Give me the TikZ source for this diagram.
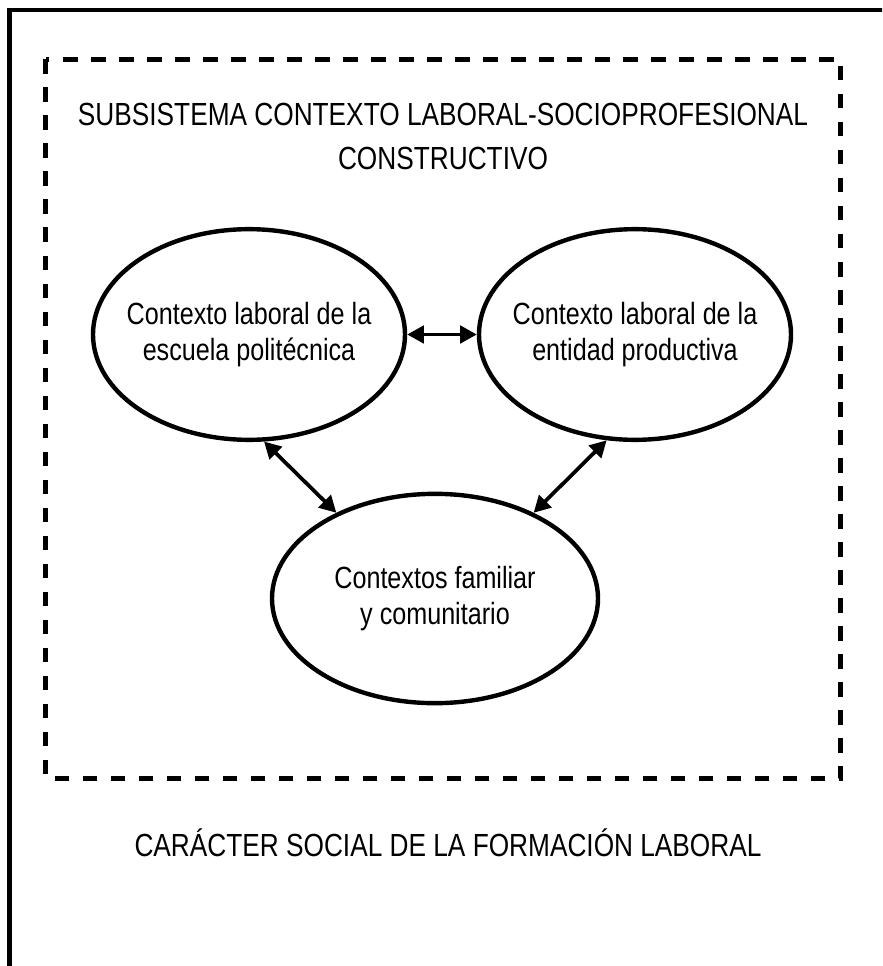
\documentclass[tikz,border=0pt]{standalone}
\usepackage{fontspec}
\setmainfont{Liberation Sans}[FakeStretch=0.82]
\usetikzlibrary{shapes.geometric}
\usetikzlibrary{arrows.meta}

\tikzset{
  ctx/.style={ellipse, draw, line width=3.3pt, inner ysep=0pt, inner xsep=-20pt,
    align=center, font=\fontsize{23}{27}\selectfont},
  lbl/.style={align=center, font=\fontsize{24}{33}\selectfont},
  link/.style={{Triangle[length=12.5pt,width=13pt]}-{Triangle[length=12.5pt,width=13pt]},
    line width=2.8pt},
}

\begin{document}
\begin{tikzpicture}[x=0.75pt,y=-0.75pt]
  \useasboundingbox (0,0) rectangle (882,966);
  \clip (0,0) rectangle (882,966);
  % outer frame, cut at right and bottom
  \draw[line width=3.3pt] (9.5,990) |- (900,10);
  % subsystem
  \draw[line width=3.3pt, dash pattern=on 11pt off 10pt] (45.5,59.5) rectangle (840.5,778.5);
  \node (sub) [lbl] at (443,136) {SUBSISTEMA CONTEXTO LABORAL-SOCIOPROFESIONAL\\CONSTRUCTIVO};

  \node (esc) [ctx, minimum width=234pt, minimum height=158pt] at (249,334.5)
    {Contexto laboral de la\\escuela politécnica};
  \node (ent) [ctx, minimum width=234pt, minimum height=158pt] at (635,334.5)
    {Contexto laboral de la\\entidad productiva};
  \node (fam) [ctx, minimum width=244.5pt, minimum height=157pt] at (435,598.5)
    {Contextos familiar\\y comunitario};

  \draw[link] (esc.east) -- (ent.west);
  \draw[link] (esc.-82) -- (fam.139);
  \draw[link] (ent.-105) -- (fam.41);

  \node (car) [lbl] at (448,843) {CARÁCTER SOCIAL DE LA FORMACIÓN LABORAL};
\end{tikzpicture}
\end{document}
